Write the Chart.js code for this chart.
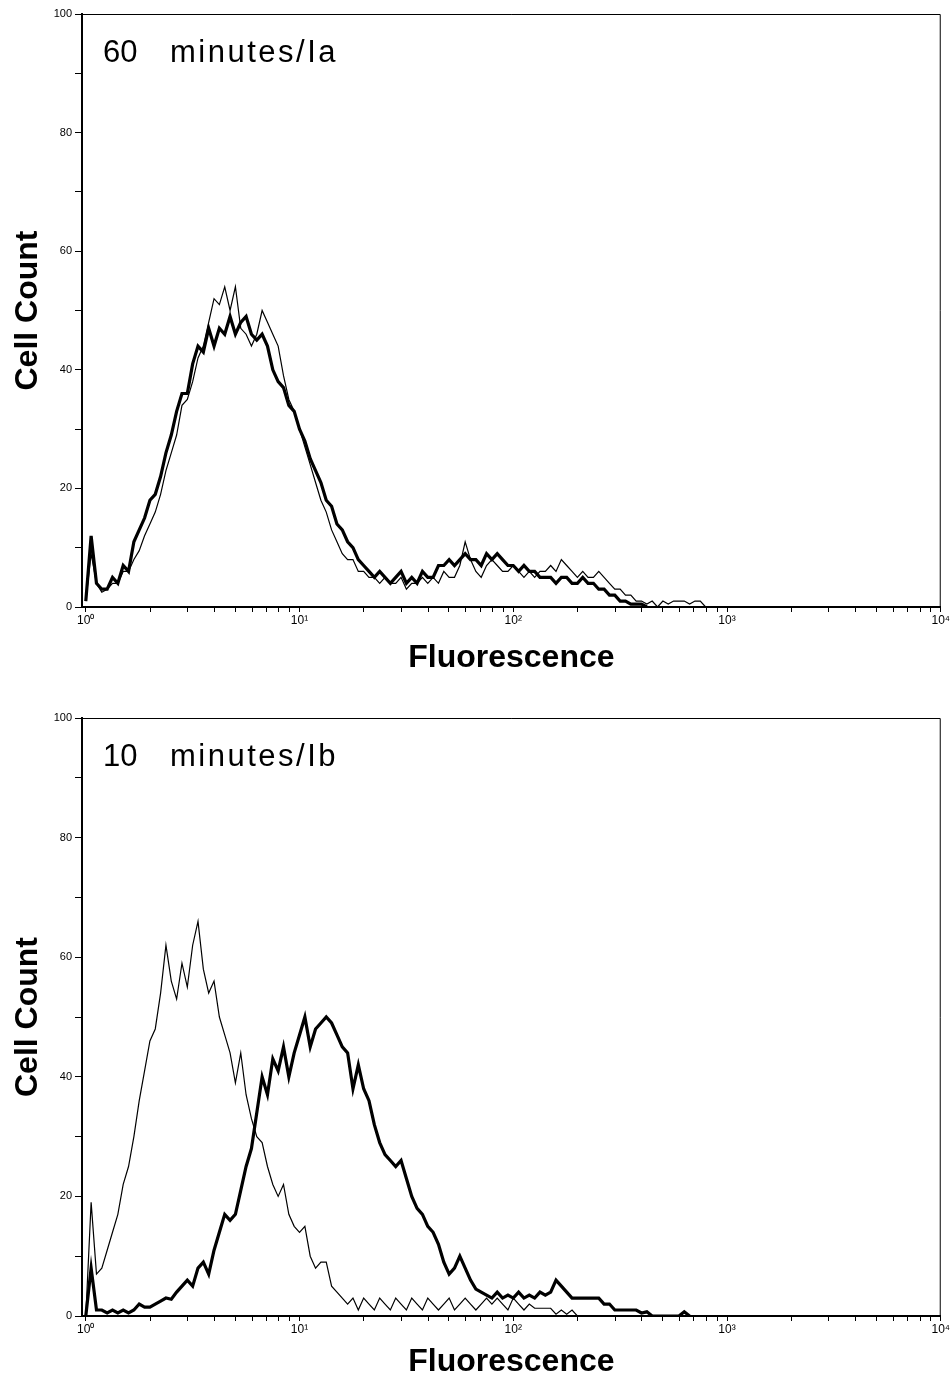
<!DOCTYPE html>
<html>
<head>
<meta charset="utf-8">
<title>Fluorescence histograms</title>
<script src="https://cdn.jsdelivr.net/npm/chart.js@4.4.1/dist/chart.umd.min.js"></script>
<style>
	html, body { margin: 0; padding: 0; background: #fff; }
	.panel { position: relative; width: 951px; }
	#panel-60 { height: 674px; }
	#panel-10 { height: 704px; }
</style>
</head>
<body>
<div class="panel" id="panel-60"><canvas id="histogram-60"></canvas></div>
<div class="panel" id="panel-10"><canvas id="histogram-10"></canvas></div>
<script>
// Axis ticks
const decadeValues = [1, 10, 100, 1000, 10000];
const decadeLabels = ['10⁰', '10¹', '10²', '10³', '10⁴'];
const countTicks = [0, 10, 20, 30, 40, 50, 60, 70, 80, 90, 100];
const countLabels = ['0', '', '20', '', '40', '', '60', '', '80', '', '100'];

// Histogram channels: 40 per decade starting at 10^0
const BINS_PER_DECADE = 40;

// 60 minutes / Ia (cell counts per channel)
const ia60Thick = [
	1, 12, 4, 3, 3, 5, 4, 7, 6, 11, 13, 15, 18, 19, 22, 26, 29, 33, 36, 36,
	41, 44, 43, 47, 44, 47, 46, 49, 46, 48, 49, 46, 45, 46, 44, 40, 38, 37, 34, 33,
	30, 28, 25, 23, 21, 18, 17, 14, 13, 11, 10, 8, 7, 6, 5, 6, 5, 4, 5, 6,
	4, 5, 4, 6, 5, 5, 7, 7, 8, 7, 8, 9, 8, 8, 7, 9, 8, 9, 8, 7,
	7, 6, 7, 6, 6, 5, 5, 5, 4, 5, 5, 4, 4, 5, 4, 4, 3, 3, 2, 2,
	1, 1, 0.5, 0.5, 0.5, 0
];
const ia60Thin = [
	1, 9, 4, 2.5, 3, 4, 4, 6, 6, 8, 9.5, 12, 14, 16, 19, 23, 26, 29, 34, 35,
	38, 42, 44, 48, 52, 51, 54, 50, 54, 47, 46, 44, 46, 50, 48, 46, 44, 39, 35, 33,
	30, 27, 24, 21, 18, 16, 13, 11, 9, 8, 8, 6, 6, 5, 5, 4, 5, 4, 4, 5,
	3, 4, 4, 5, 4, 5, 4, 6, 5, 5, 7, 11, 8, 6, 5, 7, 8, 7, 6, 6,
	7, 6, 5, 6, 5, 6, 6, 7, 6, 8, 7, 6, 5, 6, 5, 5, 6, 5, 4, 3,
	3, 2, 2, 1, 1, 0.5, 1, 0, 1, 0.5, 1, 1, 1, 0.5, 1, 1, 0
];

// 10 minutes / Ib (cell counts per channel)
const ib10Thick = [
	0, 8, 1, 1, 0.5, 1, 0.5, 1, 0.5, 1, 2, 1.5, 1.5, 2, 2.5, 3, 2.8, 4, 5, 6,
	5, 8, 9, 7, 11, 14, 17, 16, 17, 21, 25, 28, 34, 40, 37, 43, 41, 45, 40, 44,
	47, 50, 45, 48, 49, 50, 49, 47, 45, 44, 38, 42, 38, 36, 32, 29, 27, 26, 25, 26,
	23, 20, 18, 17, 15, 14, 12, 9, 7, 8, 10, 8, 6, 4.5, 4, 3.5, 3, 4, 3, 3.5,
	3, 4, 3, 3.5, 3, 4, 3.5, 4, 6, 5, 4, 3, 3, 3, 3, 3, 3, 2, 2, 1,
	1, 1, 1, 1, 0.5, 0.7, 0, 0, 0, 0, 0, 0, 0.7, 0
];
const ib10Thin = [
	0, 19, 7, 8, 11, 14, 17, 22, 25, 30, 36, 41, 46, 48, 54, 62, 56, 53, 59, 55,
	62, 66, 58, 54, 56, 50, 47, 44, 39, 44, 37, 33, 30, 29, 25, 22, 20, 22, 17, 15,
	14, 15, 10, 8, 9, 9, 5, 4, 3, 2, 3, 1, 3, 2, 1, 3, 2, 1, 3, 2,
	1, 3, 2, 1, 3, 2, 1, 2, 3, 1, 2, 3, 2, 1, 2, 3, 2, 3, 2, 1,
	3, 2, 1, 2, 1.3, 1.3, 1.3, 1.3, 0.3, 1, 0.3, 1, 0
];

const FONT = '"Liberation Sans", Arial, Helvetica, sans-serif';

function channelPoints(counts) {
	return counts.map((c, i) => ({ x: Math.pow(10, i / BINS_PER_DECADE), y: c }));
}

// every tick mark along the log axis (1..9 in each decade)
const fluorTicks = [];
decadeValues.slice(0, -1).forEach(d => {
	for (let k = 1; k <= 9; k++) fluorTicks.push(d * k);
});
fluorTicks.push(decadeValues[decadeValues.length - 1]);

// box frame on top/right of the plot
const framePlugin = {
	id: 'frame',
	afterDatasetsDraw(chart) {
		const { ctx, chartArea: a } = chart;
		ctx.save();
		ctx.strokeStyle = '#000';
		ctx.lineWidth = 1;
		ctx.beginPath();
		ctx.moveTo(a.left, a.top + 0.5);
		ctx.lineTo(a.right - 0.5, a.top + 0.5);
		ctx.lineTo(a.right - 0.5, a.bottom);
		ctx.stroke();
		ctx.restore();
	}
};

const panelLabelPlugin = {
	id: 'panelLabel',
	afterDraw(chart, args, opts) {
		const { ctx, chartArea: a } = chart;
		ctx.save();
		ctx.fillStyle = '#000';
		ctx.font = '31px ' + FONT;
		ctx.textBaseline = 'alphabetic';
		ctx.fillText(opts.time, a.left + 21, a.top + 48);
		ctx.letterSpacing = '2.5px';
		ctx.fillText(opts.text, a.left + 88, a.top + 48);
		ctx.restore();
	}
};

function histogramChart(id, thick, thin, label, layout) {
	const el = document.getElementById(id);
	return new Chart(el, {
		type: 'line',
		data: {
			datasets: [
				{
					data: channelPoints(thin),
					borderColor: '#000',
					borderWidth: 1.2,
					pointRadius: 0,
					tension: 0,
					fill: false
				},
				{
					data: channelPoints(thick),
					borderColor: '#000',
					borderWidth: 3.2,
					pointRadius: 0,
					tension: 0,
					fill: false
				}
			]
		},
		options: {
			responsive: true,
			maintainAspectRatio: false,
			animation: false,
			events: [],
			layout: { padding: { top: layout.top, right: 9, left: 0, bottom: 0 } },
			scales: {
				x: {
					type: 'logarithmic',
					min: 0.96,
					max: 10000,
					afterBuildTicks: s => { s.ticks = fluorTicks.map(v => ({ value: v })); },
					afterFit: s => { s.height = layout.xHeight; },
					ticks: {
						autoSkip: false,
						maxRotation: 0,
						padding: 1,
						color: '#000',
						font: { family: FONT, size: 12 },
						callback: v => {
							const i = decadeValues.indexOf(v);
							return i >= 0 ? decadeLabels[i] : '';
						}
					},
					grid: { drawOnChartArea: false, drawTicks: true, tickLength: 5, color: '#000' },
					border: { display: true, color: '#000', width: 2 },
					title: {
						display: true,
						text: 'Fluorescence',
						color: '#000',
						font: { family: FONT, size: 32, weight: 'bold', lineHeight: 1 },
						padding: { top: 0, bottom: layout.titleBottom }
					}
				},
				y: {
					min: 0,
					max: 100,
					afterBuildTicks: s => { s.ticks = countTicks.map(v => ({ value: v })); },
					afterFit: s => { s.width = 82; },
					ticks: {
						autoSkip: false,
						padding: 3,
						color: '#000',
						font: { family: FONT, size: 11 },
						callback: (v, i) => countLabels[i]
					},
					grid: { drawOnChartArea: false, drawTicks: true, tickLength: 7, color: '#000' },
					border: { display: true, color: '#000', width: 2 },
					title: {
						display: true,
						text: 'Cell Count',
						color: '#000',
						font: { family: FONT, size: 32, weight: 'bold', lineHeight: 1 },
						padding: { top: 12, bottom: 0 }
					}
				}
			},
			plugins: {
				legend: { display: false },
				tooltip: { enabled: false },
				panelLabel: label
			}
		},
		plugins: [framePlugin, panelLabelPlugin]
	});
}

histogramChart('histogram-60', ia60Thick, ia60Thin,
	{ time: '60', text: 'minutes/Ia' },
	{ top: 14, xHeight: 67, titleBottom: 0 });

histogramChart('histogram-10', ib10Thick, ib10Thin,
	{ time: '10', text: 'minutes/Ib' },
	{ top: 44, xHeight: 62, titleBottom: 0 });
</script>
</body>
</html>
